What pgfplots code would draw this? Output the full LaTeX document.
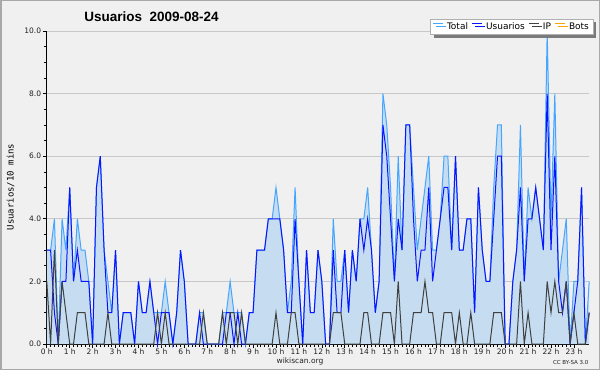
\documentclass[border=0pt]{standalone}
\usepackage{fontspec}
\setmainfont{DejaVu Sans}
\newfontfamily\titlefont{Liberation Sans}
\newfontfamily\monofont{DejaVu Sans Mono}
\usepackage{graphicx}
\usepackage{pgfplots}
\pgfplotsset{compat=1.18}
\usepackage{pgfplotstable}
\usetikzlibrary{shadows}
\definecolor{bg}{HTML}{F0F0F0}
\definecolor{framegray}{HTML}{A8A8A8}
\definecolor{gridgray}{HTML}{C8C8C8}
\definecolor{fillblue}{HTML}{C6DDF1}
\definecolor{totalblue}{HTML}{45A5FF}
\definecolor{userblue}{HTML}{0A14FF}
\definecolor{ipgray}{HTML}{404040}
\definecolor{botsorange}{HTML}{FFA500}
\definecolor{labelgray}{HTML}{222222}
\definecolor{legendborder}{HTML}{B0B0B0}
\definecolor{shadowgray}{HTML}{7A7A7A}

\pgfplotstableread{
i U IP T
0 3 2 3
1 3 0 3
2 1 3 4
3 0 0 0
4 2 2 4
5 2 1 3
6 5 0 5
7 2 0 2
8 3 1 4
9 2 1 3
10 2 1 3
11 2 0 2
12 0 0 0
13 5 0 5
14 6 0 6
15 3 0 3
16 1 1 2
17 1 0 1
18 3 0 3
19 0 0 0
20 1 0 1
21 1 0 1
22 1 0 1
23 0 0 0
24 2 0 2
25 1 0 1
26 1 0 1
27 2 0 2
28 1 0 1
29 0 1 1
30 1 0 1
31 1 1 2
32 1 0 1
33 0 0 0
34 1 0 1
35 3 0 3
36 2 0 2
37 0 0 0
38 0 0 0
39 0 0 0
40 1 0 1
41 0 1 1
42 0 0 0
43 0 0 0
44 0 0 0
45 0 0 0
46 0 1 1
47 1 0 1
48 1 1 2
49 0 1 1
50 1 0 1
51 0 1 1
52 0 0 0
53 1 0 1
54 1 0 1
55 3 0 3
56 3 0 3
57 3 0 3
58 4 0 4
59 4 0 4
60 4 1 5
61 4 0 4
62 3 0 3
63 1 0 1
64 1 1 2
65 4 1 5
66 2 0 2
67 0 0 0
68 3 0 3
69 1 0 1
70 1 0 1
71 3 0 3
72 2 0 2
73 0 0 0
74 0 0 0
75 3 1 4
76 1 1 2
77 1 1 2
78 3 0 3
79 1 0 1
80 3 0 3
81 2 0 2
82 4 0 4
83 3 1 4
84 4 1 5
85 3 0 3
86 1 0 1
87 2 0 2
88 7 1 8
89 6 1 7
90 4 1 5
91 2 0 2
92 4 2 6
93 3 0 3
94 7 0 7
95 7 0 7
96 4 1 5
97 2 1 3
98 3 1 4
99 3 2 5
100 5 1 6
101 2 1 3
102 3 0 3
103 4 0 4
104 5 1 6
105 5 1 6
106 3 1 3
107 6 0 6
108 3 1 3
109 3 0 3
110 4 0 4
111 4 1 4
112 1 0 1
113 5 0 5
114 3 0 3
115 2 0 2
116 2 0 2
117 4 1 5
118 6 1 7
119 6 1 7
120 0 0 0
121 0 0 0
122 2 0 2
123 3 0 3
124 5 2 7
125 2 0 2
126 4 1 5
127 4 0 4
128 5 0 5
129 4 0 4
130 3 0 3
131 8 2 10
132 3 1 4
133 6 2 8
134 2 1 2
135 1 1 3
136 2 2 4
137 0 0 0
138 1 1 2
139 2 0 2
140 5 0 5
141 0 0 0
142 1 1 2
}\datatable

\begin{document}
\begin{tikzpicture}[x=1pt,y=1pt]
\fill[bg] (0,0) rectangle (600,370);
\draw[draw=framegray, line width=1.5pt] (0.75,0.75) rectangle (599.25,369.25);
\begin{axis}[
  at={(46.8pt,26pt)}, anchor=south west,
  scale only axis, width=542.4pt, height=313pt,
  xmin=0, xmax=142, ymin=0, ymax=10,
  axis x line*=bottom, axis y line*=left,
  axis line style={black, line width=0.8pt},
  xtick={0,6,...,138},
  xticklabels={0 h,1 h,2 h,3 h,4 h,5 h,6 h,7 h,8 h,9 h,10 h,11 h,12 h,13 h,14 h,15 h,16 h,17 h,18 h,19 h,20 h,21 h,22 h,23 h},
  minor x tick num=5,
  ytick={0,2,4,6,8,10},
  yticklabels={0.0,2.0,4.0,6.0,8.0,10.0},
  minor y tick num=3,
  ymajorgrids,
  grid style={gridgray, line width=0.8pt},
  tick align=outside,
  major tick length=4pt, minor tick length=2.5pt,
  tick style={black, line width=0.6pt},
  ticklabel style={font=\fontsize{7.5}{8}\selectfont, text=labelgray},
  xticklabel style={inner sep=1pt},
  yticklabel style={inner sep=1.5pt},
  clip=false,
  legend columns=4,
  legend style={at={(1,1)}, anchor=north east, xshift=4pt, yshift=12pt,
    draw=legendborder, fill=white, line width=0.6pt,
    font=\fontsize{9}{10}\selectfont, inner xsep=2pt, inner ysep=1.5pt,
    drop shadow={shadow xshift=3pt, shadow yshift=-3pt, fill=shadowgray, opacity=1},
    /tikz/every odd column/.append style={column sep=0.5pt},
    /tikz/every even column/.append style={column sep=1.5pt}},
  legend image code/.code={\draw[#1, line width=1pt] (0pt,3.2pt) -- (10pt,3.2pt);},
]
\addplot[fill=fillblue, draw=none, forget plot] table[x=i, y=T]{\datatable} \closedcycle;
\addplot[totalblue, line width=1pt] table[x=i, y=T]{\datatable};
\addlegendentry{\kern1pt Total}
\addplot[userblue, line width=1pt] table[x=i, y=U]{\datatable};
\addlegendentry{\kern1pt Usuarios}
\addplot[ipgray, line width=1pt] table[x=i, y=IP]{\datatable};
\addlegendentry{\kern1pt IP}
\addlegendimage{botsorange, line width=1pt}
\addlegendentry{\kern1pt Bots}
\end{axis}
\node[font={\titlefont\bfseries\fontsize{13.5}{15}\selectfont}, text=black] at (151.5,353.5) {Usuarios\hspace{0.55em}2009-08-24};
\node[rotate=90, font={\monofont\fontsize{9}{10}\selectfont}, text=black] at (10.5,183) {Usuarios/10 mins};
\node[font=\fontsize{7.5}{8}\selectfont, text=labelgray] at (300,8.5) {wikiscan.org};
\node[font=\fontsize{5.5}{6}\selectfont, text=labelgray, anchor=east] at (592,7.5) {CC BY-SA 3.0};
\pgfresetboundingbox
\useasboundingbox (0,0) rectangle (600,370);
\end{tikzpicture}
\end{document}
